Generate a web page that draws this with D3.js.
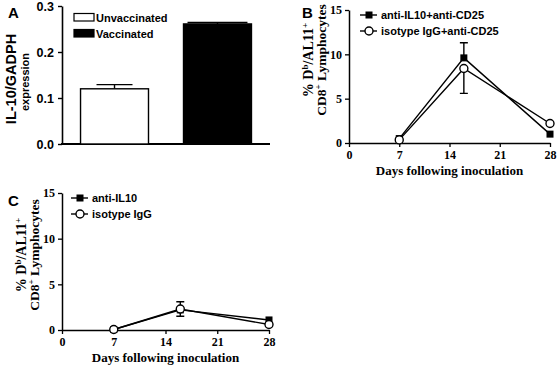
<!DOCTYPE html>
<html>
<head>
<meta charset="utf-8">
<script src="https://cdn.jsdelivr.net/npm/d3@7"></script>
<style>
  body { margin: 0; background: #fff; }
  svg { display: block; }
  .sans { font-family: "Liberation Sans", Arial, sans-serif; font-weight: bold; }
  .serif { font-family: "Liberation Serif", "Times New Roman", serif; font-weight: bold; }
</style>
</head>
<body>
<div id="container"></div>
<script>
// panel A
var barCategories = ['Unvaccinated', 'Vaccinated'];
var barValues = [0.12, 0.261];
var barErrors = [0.009, 0.003];
var barTicks = [0, 0.1, 0.2, 0.3];

// panels B and C
var days = [7, 16, 28];
var dayTicks = [0, 7, 14, 21, 28];
var pctTicks = [0, 5, 10, 15];

var bLabels = ['anti-IL10+anti-CD25', 'isotype IgG+anti-CD25'];
var bSquare = [0.5, 9.6, 1.0];
var bSquareErr = [0, 1.7, 0];
var bCircle = [0.35, 8.4, 2.2];
var bCircleErr = [0, 2.8, 0];

var cLabels = ['anti-IL10', 'isotype IgG'];
var cSquare = [0.05, 2.2, 1.1];
var cSquareErr = [0, 0, 0];
var cCircle = [0.05, 2.3, 0.6];
var cCircleErr = [0, 0.8, 0];

var width = 558, height = 369;

var svg = d3.select('#container')
    .append('svg')
    .attr('width', width)
    .attr('height', height);

// ---------- Panel A ----------
var ax = d3.scaleBand()
    .domain(barCategories)
    .range([62, 270])
    .paddingInner(0.34)
    .paddingOuter(0.18);
var ay = d3.scaleLinear().domain([0, 0.3]).range([144, 6]);

var gA = svg.append('g');
gA.append('g')
    .attr('class', 'sans')
    .attr('transform', 'translate(62,0)')
    .call(d3.axisLeft(ay).tickValues(barTicks).tickFormat(d3.format('.1f')).tickSize(4).tickSizeOuter(0))
    .call(function(g) {
        g.select('.domain').attr('stroke-width', 1.6);
        g.selectAll('.tick line').attr('stroke-width', 1.4);
        g.selectAll('text').attr('font-size', 12.5).attr('font-family', null).attr('dx', -1);
    });
gA.append('line')
    .attr('x1', 61).attr('x2', 270)
    .attr('y1', ay(0)).attr('y2', ay(0))
    .attr('stroke', '#000').attr('stroke-width', 1.8);

gA.selectAll('line.err')
    .data(barValues)
    .enter()
    .append('path')
    .attr('fill', 'none').attr('stroke', '#000').attr('stroke-width', 1.4)
    .attr('d', function(d, i) {
        var cx = ax(barCategories[i]) + ax.bandwidth() / 2;
        var top = ay(d + barErrors[i]);
        var hw = i === 0 ? 18 : ax.bandwidth() / 2 - 4;
        return 'M' + cx + ',' + ay(d) + 'V' + top + 'M' + (cx - hw) + ',' + top + 'H' + (cx + hw);
    });
gA.selectAll('rect.bar')
    .data(barValues)
    .enter()
    .append('rect')
    .attr('x', function(d, i) { return ax(barCategories[i]); })
    .attr('y', function(d) { return ay(d); })
    .attr('width', ax.bandwidth())
    .attr('height', function(d) { return ay(0) - ay(d); })
    .attr('fill', function(d, i) { return i === 0 ? '#fff' : '#000'; })
    .attr('stroke', '#000')
    .attr('stroke-width', 1.4);

var legA = gA.append('g').attr('class', 'sans');
barCategories.forEach(function(c, i) {
    legA.append('rect')
        .attr('x', 74).attr('y', 13.5 + i * 16)
        .attr('width', 20).attr('height', 7.5)
        .attr('fill', i === 0 ? '#fff' : '#000')
        .attr('stroke', '#000').attr('stroke-width', 1.2);
    legA.append('text')
        .attr('x', 96).attr('y', 21.5 + i * 16)
        .attr('font-size', 11)
        .text(c);
});

gA.append('text').attr('class', 'sans')
    .attr('x', 8).attr('y', 18).attr('font-size', 15).text('A');
gA.append('text').attr('class', 'sans')
    .attr('transform', 'translate(16,79) rotate(-90)')
    .attr('text-anchor', 'middle').attr('font-size', 14.5)
    .text('IL-10/GADPH');
gA.append('text').attr('class', 'sans')
    .attr('transform', 'translate(29,82) rotate(-90)')
    .attr('text-anchor', 'middle').attr('font-size', 11)
    .text('expression');

// ---------- line panels ----------
function linePanel(opt) {
    var x = d3.scaleLinear().domain([0, 28]).range(opt.xr);
    var y = d3.scaleLinear().domain([0, 15]).range(opt.yr);
    var g = svg.append('g');

    g.append('g')
        .attr('class', 'serif')
        .attr('transform', 'translate(' + opt.xr[0] + ',0)')
        .call(d3.axisLeft(y).tickValues(pctTicks).tickSize(4).tickSizeOuter(0))
        .call(function(a) {
            a.select('.domain').attr('stroke-width', 1.5);
            a.selectAll('.tick line').attr('stroke-width', 1.3);
            a.selectAll('text').attr('font-size', 12).attr('font-family', null);
        });
    g.append('g')
        .attr('class', 'serif')
        .attr('transform', 'translate(0,' + opt.yr[0] + ')')
        .call(d3.axisBottom(x).tickValues(dayTicks).tickSize(4).tickSizeOuter(0))
        .call(function(a) {
            a.select('.domain').attr('stroke-width', 1.5);
            a.selectAll('.tick line').attr('stroke-width', 1.3);
            a.selectAll('text').attr('font-size', 12).attr('font-family', null).attr('dy', '0.75em');
        });

    var line = d3.line()
        .x(function(d) { return x(d[0]); })
        .y(function(d) { return y(d[1]); });

    opt.series.forEach(function(s) {
        var pts = days.map(function(d, i) { return [d, s.values[i]]; });
        g.append('path')
            .datum(pts)
            .attr('d', line)
            .attr('fill', 'none').attr('stroke', '#000').attr('stroke-width', 1.4);
        g.selectAll(null)
            .data(days)
            .enter()
            .filter(function(d, i) { return s.err[i] > 0; })
            .append('path')
            .attr('fill', 'none').attr('stroke', '#000').attr('stroke-width', 1.4)
            .attr('d', function(d) {
                var i = days.indexOf(d), cx = x(d), v = s.values[i], e = s.err[i];
                var p = '';
                [v + e, v - e].forEach(function(end, k) {
                    if (s.dir === 'up' && k === 1) return;
                    if (s.dir === 'down' && k === 0) return;
                    p += 'M' + cx + ',' + y(v) + 'V' + y(end) + 'M' + (cx - 4) + ',' + y(end) + 'H' + (cx + 4);
                });
                return p;
            });
    });
    opt.series.forEach(function(s) {
        var pts = days.map(function(d, i) { return [d, s.values[i]]; });
        drawMarker(g.selectAll(null).data(pts).enter(), s.shape, function(d) { return x(d[0]); }, function(d) { return y(d[1]); });
    });

    // legend
    var leg = g.append('g').attr('class', 'sans');
    opt.series.forEach(function(s, i) {
        var ly = opt.leg[1] + i * 16;
        leg.append('line')
            .attr('x1', opt.leg[0]).attr('x2', opt.leg[0] + 17)
            .attr('y1', ly).attr('y2', ly)
            .attr('stroke', '#000').attr('stroke-width', 1.4);
        drawMarker(leg.selectAll(null).data([0]).enter(), s.shape,
            function() { return opt.leg[0] + 9; }, function() { return ly; });
        leg.append('text')
            .attr('x', opt.leg[0] + 21).attr('y', ly + 4)
            .attr('font-size', 11)
            .text(s.label);
    });

    g.append('text').attr('class', 'sans')
        .attr('x', opt.letter[0]).attr('y', opt.letter[1]).attr('font-size', 15).text(opt.name);

    var lab1 = g.append('text').attr('class', 'serif')
        .attr('transform', 'translate(' + (opt.xr[0] - 36) + ',' + opt.labY + ') rotate(-90)')
        .attr('text-anchor', 'middle').attr('font-size', 14);
    lab1.append('tspan').text('% D');
    lab1.append('tspan').attr('baseline-shift', 'super').attr('font-size', 9).text('b');
    lab1.append('tspan').text('/AL11');
    lab1.append('tspan').attr('baseline-shift', 'super').attr('font-size', 9).text('+');

    var lab2 = g.append('text').attr('class', 'serif')
        .attr('transform', 'translate(' + (opt.xr[0] - 23) + ',' + opt.labY + ') rotate(-90)')
        .attr('text-anchor', 'middle').attr('font-size', 13.5);
    lab2.append('tspan').text('CD8');
    lab2.append('tspan').attr('baseline-shift', 'super').attr('font-size', 9).text('+');
    lab2.append('tspan').text(' Lymphocytes');

    g.append('text').attr('class', 'serif')
        .attr('x', (opt.xr[0] + opt.xr[1]) / 2).attr('y', opt.yr[0] + 32)
        .attr('text-anchor', 'middle').attr('font-size', 13)
        .text('Days following inoculation');
}

function drawMarker(sel, shape, fx, fy) {
    if (shape === 'square') {
        sel.append('rect')
            .attr('x', function(d) { return fx(d) - 3.5; })
            .attr('y', function(d) { return fy(d) - 3.5; })
            .attr('width', 7).attr('height', 7)
            .attr('fill', '#000');
    } else {
        sel.append('circle')
            .attr('cx', fx).attr('cy', fy).attr('r', 4)
            .attr('fill', '#fff').attr('stroke', '#000').attr('stroke-width', 1.4);
    }
}

linePanel({
    name: 'B', letter: [302, 18],
    xr: [349, 550], yr: [143, 10], labY: 60, leg: [360, 15],
    series: [
        { label: bLabels[0], values: bSquare, err: bSquareErr, shape: 'square', dir: 'up' },
        { label: bLabels[1], values: bCircle, err: bCircleErr, shape: 'circle', dir: 'down' }
    ]
});

linePanel({
    name: 'C', letter: [8, 206],
    xr: [62, 269], yr: [330, 193], labY: 255, leg: [71, 198],
    series: [
        { label: cLabels[0], values: cSquare, err: cSquareErr, shape: 'square', dir: 'both' },
        { label: cLabels[1], values: cCircle, err: cCircleErr, shape: 'circle', dir: 'both' }
    ]
});
</script>
</body>
</html>
